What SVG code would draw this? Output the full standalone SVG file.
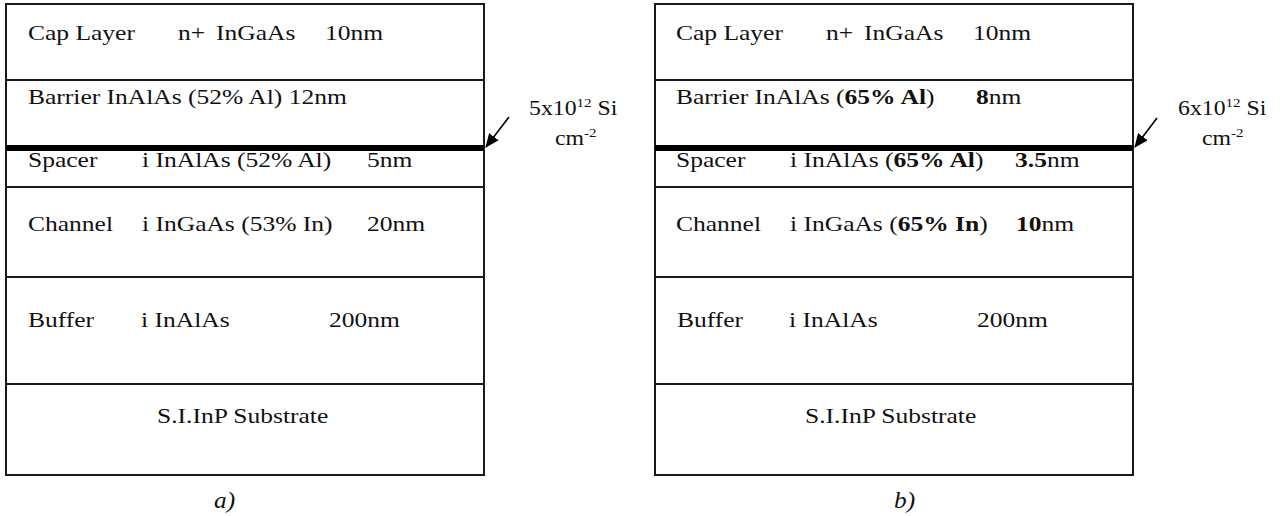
<svg xmlns="http://www.w3.org/2000/svg" width="1283" height="516" viewBox="0 0 1283 516">
<defs>
<style>
.t{font-family:"Liberation Serif","Times New Roman",serif;font-size:22px;fill:#111}
.b{font-weight:bold}
.cap{font-family:"Liberation Serif","Times New Roman",serif;font-size:23px;font-style:italic;fill:#111}
.lbl{font-family:"Liberation Serif","Times New Roman",serif;font-size:20.5px;fill:#111}
.sup{font-size:13px}
.box{fill:#fff;stroke:#1a1a1a;stroke-width:2}
.ln{stroke:#1a1a1a;stroke-width:2}
.thick{stroke:#000;stroke-width:6}
.arr{stroke:#000;stroke-width:1.6;fill:none}
</style>
<marker id="ah" viewBox="0 0 14 12" refX="13" refY="6" markerWidth="14" markerHeight="12" markerUnits="userSpaceOnUse" orient="auto">
<path d="M0,0 L14,6 L0,12 z" fill="#000"/>
</marker>
</defs>
<rect width="1283" height="516" fill="#fff"/>

<g id="stack-a">
<rect class="box" x="6" y="4" width="478" height="471"/>
<g id="a-cap">
<text class="t" transform="translate(28,40) scale(1.16,1)">Cap Layer</text>
<text class="t" transform="translate(178,40) scale(1.16,1)">n+</text>
<text class="t" transform="translate(216,40) scale(1.16,1)">InGaAs</text>
<text class="t" transform="translate(325,40) scale(1.16,1)">10nm</text>
</g>
<line class="ln" x1="6" y1="80" x2="484" y2="80"/>
<g id="a-barrier">
<text class="t" transform="translate(28,104) scale(1.16,1)">Barrier InAlAs (52% Al) 12nm</text>
</g>
<g id="a-spacer">
<text class="t" transform="translate(28,167) scale(1.16,1)">Spacer</text>
<text class="t" transform="translate(142,167) scale(1.16,1)">i InAlAs (52% Al)</text>
<text class="t" transform="translate(367,167) scale(1.16,1)">5nm</text>
</g>
<line class="thick" x1="6" y1="148" x2="484" y2="148"/>
<line class="ln" x1="6" y1="187" x2="484" y2="187"/>
<g id="a-channel">
<text class="t" transform="translate(28,231) scale(1.16,1)">Channel</text>
<text class="t" transform="translate(142,231) scale(1.16,1)">i InGaAs (53% In)</text>
<text class="t" transform="translate(367,231) scale(1.16,1)">20nm</text>
</g>
<line class="ln" x1="6" y1="277" x2="484" y2="277"/>
<g id="a-buffer">
<text class="t" transform="translate(28,327) scale(1.16,1)">Buffer</text>
<text class="t" transform="translate(141,327) scale(1.16,1)">i InAlAs</text>
<text class="t" transform="translate(329,327) scale(1.16,1)">200nm</text>
</g>
<line class="ln" x1="6" y1="384" x2="484" y2="384"/>
<g id="a-substrate">
<text class="t" transform="translate(157,423) scale(1.16,1)">S.I.InP Substrate</text>
</g>
<text class="cap" transform="translate(214,508) scale(1.1,1)">a)</text>
</g>

<g id="label-a">
<text class="lbl" transform="translate(529,115) scale(1.16,1)">5x10<tspan class="sup" dy="-8">12</tspan><tspan dy="8"> Si</tspan></text>
<text class="lbl" transform="translate(555,145) scale(1.16,1)">cm<tspan class="sup" dy="-8">-2</tspan></text>
</g>

<g id="stack-b">
<rect class="box" x="655" y="4" width="478" height="471"/>
<g id="b-cap">
<text class="t" transform="translate(676,40) scale(1.16,1)">Cap Layer</text>
<text class="t" transform="translate(826,40) scale(1.16,1)">n+</text>
<text class="t" transform="translate(864,40) scale(1.16,1)">InGaAs</text>
<text class="t" transform="translate(973,40) scale(1.16,1)">10nm</text>
</g>
<line class="ln" x1="655" y1="80" x2="1133" y2="80"/>
<g id="b-barrier">
<text class="t" transform="translate(676,104) scale(1.16,1)">Barrier InAlAs (<tspan class="b">65% Al</tspan>)</text>
<text class="t" transform="translate(976,104) scale(1.16,1)"><tspan class="b">8</tspan>nm</text>
</g>
<g id="b-spacer">
<text class="t" transform="translate(676,167) scale(1.16,1)">Spacer</text>
<text class="t" transform="translate(790,167) scale(1.16,1)">i InAlAs (<tspan class="b">65% Al</tspan>)</text>
<text class="t" transform="translate(1015,167) scale(1.16,1)"><tspan class="b">3.5</tspan>nm</text>
</g>
<line class="thick" x1="655" y1="148" x2="1133" y2="148"/>
<line class="ln" x1="655" y1="187" x2="1133" y2="187"/>
<g id="b-channel">
<text class="t" transform="translate(676,231) scale(1.16,1)">Channel</text>
<text class="t" transform="translate(790,231) scale(1.16,1)">i InGaAs (<tspan class="b">65% In</tspan>)</text>
<text class="t" transform="translate(1016,231) scale(1.16,1)"><tspan class="b">10</tspan>nm</text>
</g>
<line class="ln" x1="655" y1="277" x2="1133" y2="277"/>
<g id="b-buffer">
<text class="t" transform="translate(677,327) scale(1.16,1)">Buffer</text>
<text class="t" transform="translate(789,327) scale(1.16,1)">i InAlAs</text>
<text class="t" transform="translate(977,327) scale(1.16,1)">200nm</text>
</g>
<line class="ln" x1="655" y1="384" x2="1133" y2="384"/>
<g id="b-substrate">
<text class="t" transform="translate(805,423) scale(1.16,1)">S.I.InP Substrate</text>
</g>
<text class="cap" transform="translate(894,508) scale(1.1,1)">b)</text>
</g>

<g id="label-b">
<text class="lbl" transform="translate(1178,115) scale(1.16,1)">6x10<tspan class="sup" dy="-8">12</tspan><tspan dy="8"> Si</tspan></text>
<text class="lbl" transform="translate(1202,145) scale(1.16,1)">cm<tspan class="sup" dy="-8">-2</tspan></text>
</g>

<g id="connectors">
<line class="arr" x1="509" y1="117" x2="486" y2="147" marker-end="url(#ah)"/>
<line class="arr" x1="1157" y1="118" x2="1135" y2="147" marker-end="url(#ah)"/>
</g>
</svg>
